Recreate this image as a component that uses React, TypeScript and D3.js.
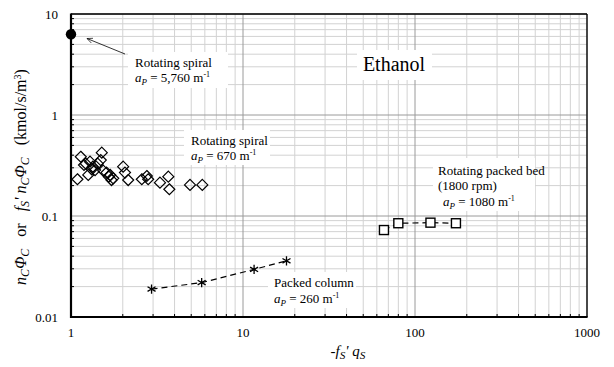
import React from "react";
import * as d3 from "d3";

const W = 614;
const H = 367;

const xTickLabels = ["1", "10", "100", "1000"];
const xTickValues = [1, 10, 100, 1000];
const yTickLabels = ["0.01", "0.1", "1", "10"];
const yTickValues = [0.01, 0.1, 1, 10];

// Rotating spiral, a_P = 5,760 m-1
const spiralHighX = [1];
const spiralHighY = [6.3];

// Rotating spiral, a_P = 670 m-1
const spiralX = [1.09, 1.14, 1.19, 1.26, 1.29, 1.34, 1.38, 1.51, 1.49, 1.54, 1.61, 1.69, 1.76, 1.72, 2.01, 2.06, 2.15, 2.58, 2.76, 2.81, 3.29, 3.68, 3.73, 4.92, 5.8, 1.22, 1.43, 1.32, 1.66];
const spiralY = [0.231, 0.386, 0.32, 0.255, 0.345, 0.308, 0.285, 0.424, 0.358, 0.281, 0.269, 0.255, 0.236, 0.227, 0.308, 0.269, 0.227, 0.231, 0.249, 0.231, 0.214, 0.245, 0.184, 0.203, 0.203, 0.33, 0.33, 0.29, 0.245];

// Packed column, a_P = 260 m-1
const packedX = [2.94, 5.75, 11.6, 17.9];
const packedY = [0.0189, 0.0219, 0.0296, 0.036];

// Rotating packed bed (1800 rpm), a_P = 1080 m-1
const rpbX = [66, 80, 123, 173];
const rpbY = [0.0726, 0.0848, 0.0859, 0.0848];

const FONT = "Liberation Serif, DejaVu Serif";

export default function App() {
  const x = d3.scaleLog().domain([1, 1000]).range([71, 587]);
  const y = d3.scaleLog().domain([0.01, 10]).range([317, 14]);
  const [x0, x1] = x.range();
  const [y0, y1] = y.range();

  const minorX: number[] = [];
  for (const d of [1, 10, 100]) for (let k = 2; k <= 9; k++) minorX.push(d * k);
  const minorY: number[] = [];
  for (const d of [0.01, 0.1, 1]) for (let k = 2; k <= 9; k++) minorY.push(d * k);

  const line = d3
    .line<[number, number]>()
    .x((d) => x(d[0]))
    .y((d) => y(d[1]));

  const star = d3.symbol(d3.symbolAsterisk, 60)();
  const sub = (t: string) => (
    <tspan dy={3} fontSize="0.75em" fontStyle="italic">{t}</tspan>
  );

  const T = (props: any) => <text fontFamily={FONT} {...props} />;

  const aP = (val: string, xx: number, yy: number) => (
    <T x={xx} y={yy} fontSize={13}>
      <tspan fontStyle="italic">a</tspan>
      <tspan dy={3} fontSize={9} fontStyle="italic">P</tspan>
      <tspan dy={-3}>{` = ${val} m`}</tspan>
      <tspan dy={-5} fontSize={8}>-1</tspan>
    </T>
  );

  return (
    <svg width={W} height={H} fontFamily={FONT} style={{ position: "absolute", left: 0, top: 0, background: "#fff" }}>
      <defs>
        <marker id="arr" viewBox="0 0 10 10" refX={9} refY={5} markerWidth={8} markerHeight={8} orient="auto">
          <path d="M0,1 L9,5 L0,9" fill="none" stroke="#000" strokeWidth={1} />
        </marker>
      </defs>
      {/* grid */}
      {minorX.map((v) => (
        <line key={"gx" + v} x1={x(v)} x2={x(v)} y1={y0} y2={y1} stroke="#d2d2d2" strokeWidth={1} />
      ))}
      {minorY.map((v) => (
        <line key={"gy" + v} x1={x0} x2={x1} y1={y(v)} y2={y(v)} stroke="#d2d2d2" strokeWidth={1} />
      ))}
      {xTickValues.map((v) => (
        <line key={"Gx" + v} x1={x(v)} x2={x(v)} y1={y0} y2={y1} stroke="#9a9a9a" strokeWidth={1} />
      ))}
      {yTickValues.map((v) => (
        <line key={"Gy" + v} x1={x0} x2={x1} y1={y(v)} y2={y(v)} stroke="#9a9a9a" strokeWidth={1} />
      ))}
      {/* inner ticks */}
      {minorX.map((v) => (
        <line key={"tx" + v} x1={x(v)} x2={x(v)} y1={y0} y2={y0 - 3} stroke="#000" strokeWidth={1} />
      ))}
      {minorY.map((v) => (
        <line key={"ty" + v} x1={x0} x2={x0 + 3} y1={y(v)} y2={y(v)} stroke="#000" strokeWidth={1} />
      ))}
      {/* frame */}
      <line x1={x0} x2={x1} y1={y1} y2={y1} stroke="#000" strokeWidth={1.3} />
      <line x1={x1} x2={x1} y1={y0} y2={y1} stroke="#000" strokeWidth={1.3} />
      <line x1={x0} x2={x1 + 0.6} y1={y0} y2={y0} stroke="#000" strokeWidth={2.2} />
      <line x1={x0} x2={x0} y1={y0 + 1} y2={y1 - 0.6} stroke="#000" strokeWidth={2.2} />

      {/* annotation boxes */}
      <rect x={128} y={52} width={100} height={36} fill="#fff" />
      <rect x={184} y={130} width={86} height={35} fill="#fff" />
      <rect x={357} y={50} width={75} height={30} fill="#fff" />
      <rect x={433} y={158} width={102} height={53} fill="#fff" />
      <rect x={268} y={272} width={88} height={36} fill="#fff" />

      {/* series */}
      <path d={line(packedX.map((v, i) => [v, packedY[i]]) as [number, number][]) || ""} fill="none" stroke="#000" strokeWidth={1.2} strokeDasharray="6,4" />
      <path d={line(rpbX.map((v, i) => [v, rpbY[i]]) as [number, number][]) || ""} fill="none" stroke="#000" strokeWidth={1.2} strokeDasharray="6,4" />
      {packedX.map((v, i) => (
        <path key={"pc" + i} d={star} transform={`translate(${x(v)},${y(packedY[i])})`} fill="none" stroke="#000" strokeWidth={1.3} />
      ))}
      {rpbX.map((v, i) => (
        <rect key={"rb" + i} x={x(v) - 4.5} y={y(rpbY[i]) - 4.5} width={9} height={9} fill="#fff" stroke="#000" strokeWidth={1.4} />
      ))}
      {spiralX.map((v, i) => {
        const cx = x(v), cy = y(spiralY[i]), r = 5.5;
        return <path key={"sp" + i} d={`M${cx},${cy - r}L${cx + r},${cy}L${cx},${cy + r}L${cx - r},${cy}Z`} fill="none" stroke="#000" strokeWidth={1.2} />;
      })}
      {spiralHighX.map((v, i) => (
        <circle key={"sh" + i} cx={x(v)} cy={y(spiralHighY[i])} r={5.2} fill="#000" />
      ))}

      {/* arrow */}
      <line x1={125} y1={54} x2={87} y2={38.5} stroke="#000" strokeWidth={0.8} markerEnd="url(#arr)" />

      {/* annotations */}
      <T x={135} y={67} fontSize={13}>Rotating spiral</T>
      {aP("5,760", 135, 82)}
      <T x={191} y={145} fontSize={13}>Rotating spiral</T>
      {aP("670", 191, 160)}
      <T x={438} y={175} fontSize={13}>Rotating packed bed</T>
      <T x={438} y={190} fontSize={13}>(1800 rpm)</T>
      {aP("1080", 443, 206)}
      <T x={274} y={287} fontSize={13}>Packed column</T>
      {aP("260", 274, 303)}
      <T x={394} y={71} fontSize={20} textAnchor="middle">Ethanol</T>

      {/* tick labels */}
      {xTickValues.map((v, i) => (
        <T key={"xl" + v} x={x(v)} y={337} fontSize={13} textAnchor="middle">{xTickLabels[i]}</T>
      ))}
      {yTickValues.map((v, i) => (
        <T key={"yl" + v} x={58} y={y(v) + 4.5} fontSize={13} textAnchor="end">{yTickLabels[i]}</T>
      ))}

      {/* axis titles */}
      <T x={348} y={356} fontSize={15} textAnchor="middle">
        <tspan fontStyle="italic">-f</tspan>
        {sub("S")}
        <tspan dy={-3} fontStyle="italic">{"' q"}</tspan>
        {sub("S")}
      </T>
      <T transform="translate(26,177) rotate(-90)" fontSize={16} textAnchor="middle" style={{ whiteSpace: "pre" }}>
        <tspan fontStyle="italic">n</tspan>
        {sub("C")}
        <tspan dy={-3} fontStyle="italic">Φ</tspan>
        {sub("C")}
        <tspan dy={-3}>{"   or   "}</tspan>
        <tspan fontStyle="italic">f</tspan>
        {sub("S")}
        <tspan dy={-3} fontStyle="italic">{"' n"}</tspan>
        {sub("C")}
        <tspan dy={-3} fontStyle="italic">Φ</tspan>
        {sub("C")}
        <tspan dy={-3}>{"   (kmol/s/m"}</tspan>
        <tspan dy={-5} fontSize={10}>3</tspan>
        <tspan dy={5}>)</tspan>
      </T>
    </svg>
  );
}
